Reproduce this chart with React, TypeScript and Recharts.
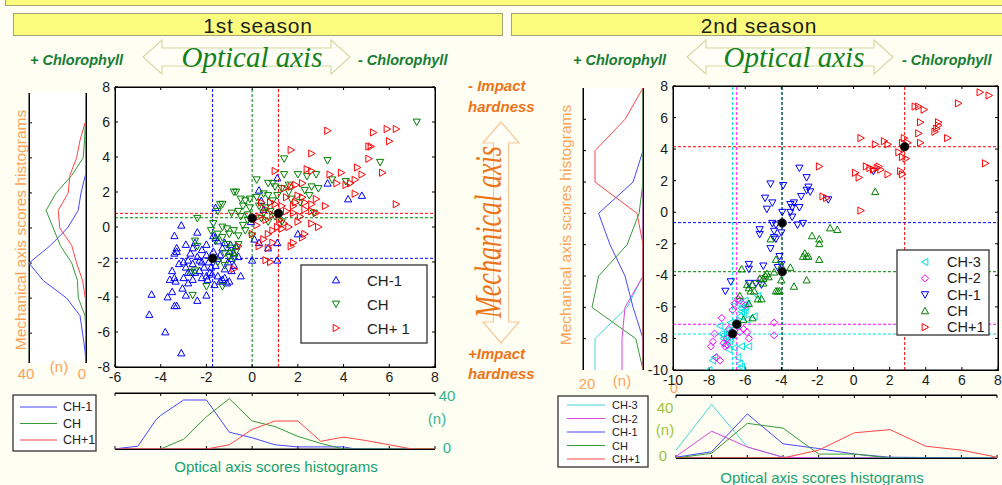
import React from 'react';
import { ScatterChart, Scatter, XAxis, YAxis, ReferenceLine } from 'recharts';

type Pt = [number, number];

// ---------------- 1st season scatter (optical x, mechanical y) ----------------
const s1Labels = ['CH-1', 'CH', 'CH+1'];
const s1_CHm1: Pt[] = [
  [-3.1, -7.2], [-3.8, -6.0], [-4.5, -5.0], [-4.4, -3.85], [-3.7, -4.0], [-3.3, -4.5], [-3.4, -4.5], [-3.05, -3.5],
  [-2.9, -3.9], [-2.4, -4.2], [-2.0, -3.9], [-3.5, -3.7], [-3.6, -3.0], [-3.4, -2.9], [-3.35, -3.1], [-3.5, -2.5],
  [-3.2, -2.1], [-3.3, -1.4], [-3.4, -1.5], [-3.3, -1.2], [-3.4, -0.5], [-3.1, 0.1], [-2.9, -1.0], [-2.7, -1.5],
  [-2.8, -1.9], [-2.6, -2.1], [-2.5, -2.6], [-2.3, -2.5], [-2.2, -2.9], [-2.6, -3.0], [-2.8, -2.6], [-2.9, -2.3],
  [-3.0, -2.0], [-2.4, -0.3], [-2.5, -0.9], [-2.2, -1.3], [-2.0, -1.6], [-1.9, -2.0], [-1.8, -2.3], [-2.1, -2.3],
  [-2.3, -1.9], [-2.4, -1.7], [-2.0, -2.8], [-1.85, -2.6], [-1.6, -2.2], [-1.5, -2.8], [-1.4, -3.1], [-1.3, -3.0],
  [-1.1, -3.2], [-1.0, -3.1], [-1.2, -2.9], [-1.5, -1.8], [-1.4, -1.6], [-1.3, -1.2], [-1.5, -0.8], [-1.6, -0.6],
  [-1.2, -0.9], [-1.0, -1.4], [-0.9, -1.8], [-1.05, -2.0], [-0.8, -2.2], [-0.9, -2.5], [-0.5, -2.8], [-0.95, -1.0],
  [-0.8, -1.5], [-0.6, -1.7], [-1.6, 1.1], [-0.05, 0.3], [0.3, 2.1], [0.4, 1.5], [0.1, -0.7], [0.3, -0.9],
  [0.0, -1.9], [1.1, -1.9], [1.1, -0.9], [1.1, 2.8], [2.0, -0.4], [0.7, -1.2], [3.3, 2.5], [4.2, 1.6],
  [4.8, 1.8], [0.5, 1.0], [-2.0, -1.0], [-1.7, -0.5], [-2.6, -1.2], [-2.7, -2.6], [-1.95, -3.0], [-1.75, -2.7],
  [-2.2, -2.0], [-1.7, -1.4], [-1.2, -2.4], [-0.7, -1.1], [-2.8, -3.2], [-3.0, -2.9], [-1.65, -3.3],
];
const s1_CH: Pt[] = [
  [7.2, 6.0], [5.6, 3.7], [3.3, 3.8], [1.4, 3.9], [1.4, 3.0], [2.0, 3.0], [2.8, 3.0], [3.5, 2.7],
  [4.1, 2.6], [2.4, 2.9], [2.3, 2.1], [2.6, 2.3], [0.2, 2.7], [0.7, 2.5], [0.9, 2.5], [1.0, 2.3],
  [1.3, 2.2], [1.6, 2.4], [1.1, 1.8], [0.5, 1.9], [0.7, 1.8], [0.2, 1.7], [-0.1, 1.6], [-0.3, 1.5],
  [-0.7, 2.0], [-0.8, 2.0], [-1.3, 1.3], [-1.5, 0.9], [-0.4, 1.2], [-0.6, 0.9], [-0.9, 0.8], [-0.5, 0.6],
  [-0.2, 0.7], [-0.1, 1.1], [0.3, 1.2], [0.6, 1.1], [0.8, 0.9], [0.4, 0.5], [0.7, 0.3], [1.0, 0.6],
  [1.3, 0.3], [-2.4, 0.5], [-1.7, 0.2], [-1.3, 0.0], [-1.1, -0.1], [-1.5, -0.4], [-1.8, -0.2], [-1.0, -0.4],
  [-0.6, -0.5], [-0.8, -0.2], [-0.4, 0.1], [-0.2, 0.4], [-1.6, -0.8], [-1.3, -0.6], [-1.1, -1.0], [-0.9, -1.2],
  [-0.7, -1.4], [-1.2, -1.5], [-1.0, -1.7], [-0.8, -1.8], [-0.6, -1.0], [-2.5, -0.8], [-2.4, -1.1], [-2.5, -2.5],
  [-2.7, -2.6], [-2.6, -3.9], [-2.0, -3.4], [-1.3, -3.4], [-1.5, -2.0], [-1.2, -2.2], [-0.9, -1.5], [0.0, -0.5],
  [0.5, 0.8], [1.7, 1.6], [2.1, 1.4], [2.5, 1.8], [2.9, 2.2], [1.6, 2.0], [2.7, 0.8], [0.9, 1.5],
  [-0.5, 1.6], [-0.3, -0.2], [-1.4, 1.3],
];
const s1_CHp1: Pt[] = [
  [6.3, 1.3], [5.7, 3.1], [6.0, 4.9], [5.3, 5.4], [5.9, 5.6], [6.3, 5.6], [5.1, 3.9], [5.1, 4.6],
  [5.2, 4.6], [4.8, 3.0], [4.6, 3.4], [4.5, 2.7], [4.3, 2.5], [4.1, 2.4], [4.5, 1.9], [3.9, 3.1],
  [3.4, 3.0], [3.7, 2.5], [3.3, 5.5], [2.6, 4.2], [1.7, 4.4], [1.0, 3.2], [2.8, 1.6], [2.4, 3.3],
  [2.6, 3.2], [2.2, 2.5], [1.9, 2.4], [1.7, 2.3], [1.4, 2.2], [2.0, 1.8], [2.2, 1.7], [2.3, 1.4],
  [1.8, 1.2], [2.3, 1.0], [2.6, 0.9], [2.8, 0.8], [2.6, 1.3], [2.1, 0.6], [2.0, 0.3], [1.8, 0.8],
  [1.5, 0.9], [1.3, 1.2], [1.0, 1.3], [0.8, 1.4], [0.4, 1.4], [0.6, 1.0], [0.3, 0.6], [0.6, 0.4],
  [0.9, 0.7], [1.2, 0.4], [1.4, 0.2], [1.1, 0.0], [1.3, -0.1], [1.6, 0.0], [0.9, -0.2], [0.7, -0.4],
  [0.5, -0.7], [0.9, -0.9], [0.3, -1.1], [0.7, -1.2], [1.7, -1.1], [1.8, -0.9], [2.3, -0.4], [2.2, -0.6],
  [2.9, 0.0], [2.6, 0.2], [0.6, -1.9], [0.8, -2.0], [-0.6, -1.1], [-0.8, -2.4], [0.0, -0.4], [0.2, 0.1],
  [3.2, 1.2], [1.5, 1.7], [1.9, 1.4],
];
const s1_means: Pt[] = [[-1.73, -1.79], [0.0, 0.5], [1.15, 0.78]];
const s1_meanX = [-1.73, 0.0, 1.15];
const s1_meanY = [-1.79, 0.53, 0.78];
const s1XTicks = [-6, -4, -2, 0, 2, 4, 6, 8];
const s1YTicks = [-8, -6, -4, -2, 0, 2, 4, 6, 8];

// 1st season histograms: [optical value, n] and [mechanical value, n]
const h1_opt_CHm1: Pt[] = [[-6, 0], [-5.8, 0.5], [-5, 2], [-4.2, 21], [-4, 24], [-3, 35], [-2, 35], [-1, 12], [0, 8], [1, 3], [2, 1.5], [3, 1.5], [4, 1.5], [4.5, 0], [7, 0]];
const h1_opt_CH: Pt[] = [[-4, 0], [-3, 7], [-2, 23], [-1, 36], [0, 20], [1, 16], [2, 9], [3, 4], [4, 0], [8, 0]];
const h1_opt_CHp1: Pt[] = [[-6, 0], [-2, 0], [-1, 3], [0, 14], [1, 20], [2, 20], [3, 5.5], [4, 8.5], [5, 6], [6, 3], [7, 0], [8, 0]];
const h1_mech_CHm1: Pt[] = [[-7.7, 0], [-7, 0.7], [-6, 2.4], [-5, 4.2], [-4, 13.6], [-3, 30], [-2, 40], [-1, 25], [0, 13], [1, 5.5], [2, 3.5], [3, 0.5]];
const h1_mech_CH: Pt[] = [[-7.7, 0], [-6, 0], [-5, 0.7], [-4, 5.4], [-3, 6], [-2, 10], [-1, 18], [0, 23], [1, 28], [2, 21], [3, 10], [4, 2], [5, 1], [6, 0.5]];
const h1_mech_CHp1: Pt[] = [[-4, 0.5], [-3, 2.4], [-2, 6.6], [-1, 10], [0, 18.4], [1, 19.5], [2, 12.5], [3, 11.3], [4, 6.6], [5, 4.2], [6, 0.7]];

// ---------------- 2nd season scatter ----------------
const s2Labels = ['CH-3', 'CH-2', 'CH-1', 'CH', 'CH+1'];
const s2_CHm3: Pt[] = [
  [-8.0, -10.0], [-7.8, -9.4], [-7.7, -9.2], [-6.9, -8.7], [-6.6, -8.6], [-6.2, -8.5], [-6.4, -9.2], [-6.3, -9.6],
  [-6.2, -9.8], [-7.1, -8.4], [-7.0, -8.2], [-7.3, -7.7], [-7.4, -7.2], [-7.0, -7.5], [-6.8, -7.0], [-6.6, -7.4],
  [-6.4, -7.2], [-6.5, -6.9], [-6.3, -6.6], [-6.1, -6.4], [-6.2, -6.1], [-6.0, -6.2], [-6.0, -6.0], [-5.9, -5.8],
  [-6.4, -5.8], [-6.0, -5.6], [-5.3, -5.3], [-5.5, -6.6], [-6.7, -7.8], [-6.8, -8.0], [-7.2, -8.0], [-5.8, -8.5],
  [-5.9, -6.8], [-6.2, -6.3], [-7.2, -7.8], [-6.9, -7.6],
];
const s2_CHm2: Pt[] = [
  [-7.9, -8.5], [-7.8, -8.2], [-7.6, -9.2], [-7.4, -9.4], [-7.0, -8.4], [-7.2, -8.3], [-7.1, -8.5], [-7.3, -6.7],
  [-7.7, -7.7], [-6.7, -6.2], [-6.6, -5.8], [-6.3, -5.6], [-6.0, -5.9], [-6.4, -5.5], [-6.1, -7.4], [-6.3, -7.6],
  [-5.8, -8.0], [-5.9, -7.6], [-4.4, -7.0], [-4.4, -7.8], [-5.1, -4.2], [-6.9, -7.4], [-7.0, -8.0], [-6.5, -7.1],
];
const s2_CHm1: Pt[] = [
  [1.1, 2.6], [-1.4, 0.8], [-3.0, 2.8], [-2.6, 2.2], [-2.5, 1.6], [-2.6, 1.4], [-2.4, 1.3], [-4.6, 1.8],
  [-3.9, 1.7], [-4.9, 0.9], [-4.8, 0.2], [-4.5, 0.6], [-2.9, 1.0], [-3.5, 0.5], [-3.4, 0.3], [-3.5, 0.0],
  [-3.3, 0.6], [-3.0, 0.3], [-3.95, 0.0], [-3.4, -0.3], [-4.3, -0.8], [-4.0, -0.7], [-4.5, -0.7], [-3.1, -0.8],
  [-2.8, -0.7], [-5.2, -1.1], [-5.2, -1.4], [-4.4, -1.2], [-4.4, -1.6], [-4.3, -1.7], [-4.0, -1.3], [-4.6, -2.3],
  [-4.1, -2.8], [-4.0, -3.3], [-4.2, -3.5], [-5.0, -3.4], [-5.8, -3.3], [-5.8, -3.6], [-5.4, -4.5], [-5.1, -4.6],
  [-5.8, -4.5], [-6.8, -4.4], [-7.1, -5.0],
];
const s2_CH: Pt[] = [
  [1.2, 1.3], [-1.3, -1.0], [-0.9, -1.1], [-2.3, -1.5], [-1.9, -1.7], [-1.9, -2.0], [-2.7, -2.6], [-2.6, -2.8],
  [-2.8, -2.8], [-2.5, -2.8], [-1.9, -3.0], [-4.6, -1.7], [-4.3, -3.0], [-4.0, -3.4], [-3.5, -3.5], [-4.4, -3.8],
  [-4.8, -3.9], [-4.9, -4.0], [-4.7, -4.1], [-5.0, -4.2], [-5.2, -4.2], [-5.0, -4.5], [-4.0, -4.3], [-2.6, -4.3],
  [-3.3, -4.7], [-4.2, -5.0], [-4.3, -5.0], [-4.1, -5.0], [-5.6, -4.6], [-5.9, -4.6], [-5.8, -4.8], [-5.5, -5.0],
  [-5.3, -5.5], [-5.1, -5.5], [-6.2, -3.6], [-5.7, -5.0], [-6.3, -5.3], [-6.1, -6.8], [-5.6, -6.7], [-5.8, -5.8],
];
const s2_CHp1: Pt[] = [
  [7.0, 7.6], [7.5, 7.4], [5.8, 6.9], [3.4, 6.7], [3.6, 6.7], [3.9, 6.5], [3.7, 5.7], [4.7, 5.7],
  [4.7, 5.5], [4.6, 5.3], [4.5, 5.1], [3.6, 5.0], [5.2, 4.7], [3.7, 4.4], [3.0, 4.4], [2.8, 4.7],
  [2.7, 4.4], [1.7, 4.5], [1.9, 4.3], [1.2, 4.3], [0.4, 4.7], [2.5, 3.8], [2.7, 3.5], [2.9, 3.4],
  [2.6, 2.6], [2.7, 2.4], [1.4, 2.9], [1.3, 2.8], [1.5, 2.7], [0.9, 2.8], [0.7, 2.9], [1.1, 2.7],
  [1.9, 2.4], [0.1, 2.5], [0.3, 2.2], [-1.9, 2.9], [-1.7, 1.0], [-1.5, 0.9], [0.4, 0.1], [7.3, 3.1],
  [2.8, 4.0],
];
const s2_means: Pt[] = [[-6.7, -7.7], [-6.47, -7.1], [-3.95, -0.68], [-3.95, -3.77], [2.83, 4.15]];
const s2_meanX = [-6.7, -6.47, -3.96, -3.96, 2.83];
const s2_meanY = [-7.72, -7.1, -0.66, -3.77, 4.15];
const s2XTicks = [-10, -8, -6, -4, -2, 0, 2, 4, 6, 8];
const s2YTicks = [-10, -8, -6, -4, -2, 0, 2, 4, 6, 8];

// 2nd season histograms
const h2_opt_CHm3: Pt[] = [[-10, 5], [-8, 34], [-6, 7], [-4, 0.5], [-2, 0], [8, 0]];
const h2_opt_CHm2: Pt[] = [[-10, 1], [-8, 17], [-6, 7], [-4, 0.5], [-2, 0], [8, 0]];
const h2_opt_CHm1: Pt[] = [[-10, 0.5], [-8, 4], [-6, 28], [-4, 9], [-2, 6], [0, 2.5], [2, 0.5], [8, 0]];
const h2_opt_CH: Pt[] = [[-10, 0], [-8, 3], [-6, 22], [-4, 19], [-2, 2.5], [0, 2.5], [2, 0], [8, 0]];
const h2_opt_CHp1: Pt[] = [[-10, 0], [-4, 0], [-2, 5], [0, 16], [2, 18], [4, 7.5], [6, 5], [8, 0.5]];
const h2_mech_CHm3: Pt[] = [[-4, 0], [-6, 5.3], [-8, 16], [-10, 16]];
const h2_mech_CHm2: Pt[] = [[2, 0], [-4, 0], [-6, 6], [-8, 7], [-10, 7]];
const h2_mech_CHm1: Pt[] = [[4, 0], [2, 3.3], [0, 14.8], [-2, 11], [-4, 6], [-6, 3.3], [-8, 0], [-10, 0]];
const h2_mech_CH: Pt[] = [[8, 0], [2, 0], [0, 1.3], [-2, 5.3], [-4, 14.8], [-6, 17], [-8, 2.4], [-10, 0]];
const h2_mech_CHp1: Pt[] = [[8, 0], [6, 6], [4, 16], [2, 16], [0, 2], [-2, 0], [-10, 0]];

// ---------------- styling ----------------
const BG = '#fefef3';
const SANS = 'Liberation Sans, Arial, Helvetica, sans-serif';
const SERIF = 'Liberation Serif, Times New Roman, serif';
const C = { blue: '#0000ff', green: '#008000', red: '#ff0000', cyan: '#00e0e0', magenta: '#ff00ff' };
const L = { blue: '#4848ff', green: '#379a37', red: '#ff4545', cyan: '#45d6d6', magenta: '#dd45dd' };
const ORANGE_LIGHT = '#f9a45a';
const ORANGE = '#ec7418';
const DGREEN = '#167d33';

type Kind = 'up' | 'down' | 'left' | 'right' | 'diamond';

function markerPoints(kind: Kind, cx: number, cy: number, r = 3.6) {
  const h = r * 0.8;
  switch (kind) {
    case 'up': return `${cx},${cy - r} ${cx + r},${cy + h} ${cx - r},${cy + h}`;
    case 'down': return `${cx},${cy + r} ${cx + r},${cy - h} ${cx - r},${cy - h}`;
    case 'right': return `${cx + r},${cy} ${cx - h},${cy - r} ${cx - h},${cy + r}`;
    case 'left': return `${cx - r},${cy} ${cx + h},${cy - r} ${cx + h},${cy + r}`;
    default: return `${cx},${cy - r} ${cx + r},${cy} ${cx},${cy + r} ${cx - r},${cy}`;
  }
}

const shapeOf = (kind: Kind, color: string) => (p: any) => {
  if (p == null || p.cx == null || p.cy == null || isNaN(p.cx)) return <g />;
  return <polygon points={markerPoints(kind, p.cx, p.cy)} fill="none" stroke={color} strokeWidth={1} />;
};
const meanShape = (p: any) => {
  if (p == null || p.cx == null || isNaN(p.cx)) return <g />;
  return <circle cx={p.cx} cy={p.cy} r={4.3} fill="#000" stroke="#222" strokeWidth={0.8} />;
};
const emptyShape = () => <g />;
const noTickLabel = () => <g />;

const toObj = (arr: Pt[]) => arr.map(([x, y]) => ({ x, y }));
const toObjV = (arr: Pt[]) => arr.map(([v, n]) => ({ x: n, y: v }));

const tickStyle = { fill: '#1b1b1b', fontSize: 14, fontFamily: SANS };

type SeriesDef = { name: string; data: Pt[]; kind: Kind; color: string };

function ScatterPanel(props: {
  left: number; top: number; width: number; height: number; yAxisWidth: number;
  xDomain: [number, number]; yDomain: [number, number]; xTicks: number[]; yTicks: number[];
  series: SeriesDef[]; means: Pt[];
  vlines: { x: number; color: string }[]; hlines: { y: number; color: string }[];
}) {
  const { left, top, width, height, yAxisWidth, xDomain, yDomain, xTicks, yTicks, series, means, vlines, hlines } = props;
  return (
    <div style={{ position: 'absolute', left, top }}>
      <ScatterChart width={width} height={height} margin={{ top: 9, right: 9, bottom: 0, left: 0 }}>
        <XAxis type="number" dataKey="x" domain={xDomain} ticks={xTicks} interval={0} allowDataOverflow
          height={25} tickSize={-3} tickMargin={8} tick={tickStyle} stroke="#000" />
        <XAxis xAxisId="top" type="number" dataKey="x" domain={xDomain} ticks={xTicks} interval={0} allowDataOverflow
          orientation="top" height={1} tickSize={-3} tick={noTickLabel} stroke="#000" />
        <YAxis type="number" dataKey="y" domain={yDomain} ticks={yTicks} interval={0} allowDataOverflow
          width={yAxisWidth} tickSize={-3} tickMargin={8} tick={tickStyle} stroke="#000" />
        <YAxis yAxisId="right" type="number" dataKey="y" domain={yDomain} ticks={yTicks} interval={0} allowDataOverflow
          orientation="right" width={1} tickSize={-3} tick={noTickLabel} stroke="#000" />
        {series.map((s) => (
          <Scatter key={s.name} name={s.name} data={toObj(s.data)} shape={shapeOf(s.kind, s.color)} isAnimationActive={false} />
        ))}
        {vlines.map((v, i) => (
          <ReferenceLine key={'v' + i} x={v.x} stroke={v.color} strokeDasharray="3 2" strokeWidth={1} />
        ))}
        {hlines.map((h, i) => (
          <ReferenceLine key={'h' + i} y={h.y} stroke={h.color} strokeDasharray="3 2" strokeWidth={1} />
        ))}
        <Scatter name="means" data={toObj(means)} shape={meanShape} isAnimationActive={false} />
      </ScatterChart>
    </div>
  );
}

type LineDef = { name: string; data: Pt[]; color: string };

function HistH(props: { left: number; top: number; plotW: number; plotH: number; xDomain: [number, number]; xTicks: number[]; lines: LineDef[] }) {
  const { left, top, plotW, plotH, xDomain, xTicks, lines } = props;
  return (
    <div style={{ position: 'absolute', left: left - 5, top: top - 5 }}>
      <ScatterChart width={plotW + 10} height={plotH + 10} margin={{ top: 4, right: 5, bottom: 4, left: 5 }}>
        <XAxis type="number" dataKey="x" domain={xDomain} ticks={xTicks} interval={0} allowDataOverflow
          height={1} tickSize={-3} tick={noTickLabel} stroke="#000" />
        <XAxis xAxisId="top" type="number" dataKey="x" domain={xDomain} ticks={xTicks} interval={0} allowDataOverflow
          orientation="top" height={1} tickSize={-3} tick={noTickLabel} stroke="#000" />
        <YAxis type="number" dataKey="y" domain={[0, 40]} hide width={0} allowDataOverflow />
        {lines.map((l) => (
          <Scatter key={l.name} name={l.name} data={toObj(l.data)} line={{ stroke: l.color, strokeWidth: 1 }}
            shape={emptyShape} isAnimationActive={false} />
        ))}
      </ScatterChart>
    </div>
  );
}

function HistV(props: { left: number; top: number; plotW: number; plotH: number; yDomain: [number, number]; yTicks: number[]; nMax: number; lines: LineDef[] }) {
  const { left, top, plotW, plotH, yDomain, yTicks, nMax, lines } = props;
  return (
    <div style={{ position: 'absolute', left: left - 5, top: top - 5 }}>
      <ScatterChart width={plotW + 10} height={plotH + 10} margin={{ top: 5, right: 4, bottom: 5, left: 4 }}>
        <XAxis type="number" dataKey="x" domain={[0, nMax]} reversed hide height={0} allowDataOverflow />
        <YAxis type="number" dataKey="y" domain={yDomain} ticks={yTicks} interval={0} allowDataOverflow
          width={1} tickSize={-3} tick={noTickLabel} stroke="#000" />
        <YAxis yAxisId="right" type="number" dataKey="y" domain={yDomain} ticks={yTicks} interval={0} allowDataOverflow
          orientation="right" width={1} tickLine={false} tick={noTickLabel} stroke="#000" />
        {lines.map((l) => (
          <Scatter key={l.name} name={l.name} data={toObjV(l.data)} line={{ stroke: l.color, strokeWidth: 1 }}
            shape={emptyShape} isAnimationActive={false} />
        ))}
      </ScatterChart>
    </div>
  );
}

function hArrow(x0: number, x1: number, cy: number) {
  const hl = 19, hh = 17, sh = 9;
  return `${x0},${cy} ${x0 + hl},${cy - hh} ${x0 + hl},${cy - sh} ${x1 - hl},${cy - sh} ${x1 - hl},${cy - hh} ${x1},${cy} ${x1 - hl},${cy + hh} ${x1 - hl},${cy + sh} ${x0 + hl},${cy + sh} ${x0 + hl},${cy + hh}`;
}
function vArrow(cx: number, y0: number, y1: number) {
  const hl = 21, hh = 18, sh = 7.5;
  return `${cx},${y0} ${cx + hh},${y0 + hl} ${cx + sh},${y0 + hl} ${cx + sh},${y1 - hl} ${cx + hh},${y1 - hl} ${cx},${y1} ${cx - hh},${y1 - hl} ${cx - sh},${y1 - hl} ${cx - sh},${y0 + hl} ${cx - hh},${y0 + hl}`;
}

function ScatterLegend({ x, y, w, h, rows, markerX, textX, fontSize }: { x: number; y: number; w: number; h: number; rows: { label: string; kind: Kind; color: string; y: number }[]; markerX: number; textX: number; fontSize: number }) {
  return (
    <g>
      <rect x={x} y={y} width={w} height={h} fill="#fff" stroke="#333" strokeWidth={1.3} />
      {rows.map((r) => (
        <g key={r.label}>
          <polygon points={markerPoints(r.kind, markerX, r.y)} fill="none" stroke={r.color} strokeWidth={1} />
          <text x={textX} y={r.y} fontSize={fontSize} fontFamily={SANS} fill="#222" dominantBaseline="central">{r.label}</text>
        </g>
      ))}
    </g>
  );
}

function LineLegend({ x, y, w, h, rows, x0, x1, textX, fontSize }: { x: number; y: number; w: number; h: number; rows: { label: string; color: string; y: number }[]; x0: number; x1: number; textX: number; fontSize: number }) {
  return (
    <g>
      <rect x={x} y={y} width={w} height={h} fill="#fff" stroke="#222" strokeWidth={1.2} />
      {rows.map((r) => (
        <g key={r.label}>
          <line x1={x0} x2={x1} y1={r.y} y2={r.y} stroke={r.color} strokeWidth={1.2} />
          <text x={textX} y={r.y} fontSize={fontSize} fontFamily={SANS} fill="#222" dominantBaseline="central">{r.label}</text>
        </g>
      ))}
    </g>
  );
}

export default function App() {
  const s1Series: SeriesDef[] = [
    { name: s1Labels[0], data: s1_CHm1, kind: 'up', color: C.blue },
    { name: s1Labels[1], data: s1_CH, kind: 'down', color: C.green },
    { name: s1Labels[2], data: s1_CHp1, kind: 'right', color: C.red },
  ];
  const s2Series: SeriesDef[] = [
    { name: s2Labels[0], data: s2_CHm3, kind: 'left', color: C.cyan },
    { name: s2Labels[1], data: s2_CHm2, kind: 'diamond', color: C.magenta },
    { name: s2Labels[2], data: s2_CHm1, kind: 'down', color: C.blue },
    { name: s2Labels[3], data: s2_CH, kind: 'up', color: C.green },
    { name: s2Labels[4], data: s2_CHp1, kind: 'right', color: C.red },
  ];
  const s1Colors = [C.blue, C.green, C.red];
  const s2Colors = [C.cyan, C.magenta, C.blue, C.green, C.red];

  return (
    <div style={{ position: 'absolute', left: 0, top: 0, width: 1002, height: 485, background: BG, overflow: 'hidden', fontFamily: SANS }}>
      <svg width={1002} height={485} style={{ position: 'absolute', left: 0, top: 0 }}>
        {/* title strips */}
        <rect x={5.5} y={-2} width={1000} height={7.5} fill="#fbfb7e" stroke="#a3a37a" strokeWidth={1} />
        <rect x={13.5} y={13.5} width={489} height={22} fill="#fbfb7e" stroke="#a3a37a" strokeWidth={1} />
        <rect x={511.5} y={13.5} width={496} height={22} fill="#fbfb7e" stroke="#a3a37a" strokeWidth={1} />
        <text x={258} y={25} fontSize={21} fontFamily={SANS} fill="#1e1e1e" textAnchor="middle" dominantBaseline="central" letterSpacing={0.8}>1st season</text>
        <text x={759} y={25} fontSize={21} fontFamily={SANS} fill="#1e1e1e" textAnchor="middle" dominantBaseline="central" letterSpacing={0.8}>2nd season</text>

        {/* optical arrows */}
        <polygon points={hArrow(143, 350, 57)} fill="#fffff8" stroke="#d6d8a4" strokeWidth={1.2} />
        <polygon points={hArrow(687, 893, 57)} fill="#fffff8" stroke="#d6d8a4" strokeWidth={1.2} />
        <text x={252} y={57} fontSize={29} fontStyle="italic" fontFamily={SERIF} fill="#12821c" textAnchor="middle" dominantBaseline="central">Optical axis</text>
        <text x={794} y={57} fontSize={29} fontStyle="italic" fontFamily={SERIF} fill="#12821c" textAnchor="middle" dominantBaseline="central">Optical axis</text>
        <text x={30} y={60} fontSize={14.5} fontWeight="bold" fontStyle="italic" fontFamily={SANS} fill={DGREEN} dominantBaseline="central">+ Chlorophyll</text>
        <text x={358} y={60} fontSize={14.5} fontWeight="bold" fontStyle="italic" fontFamily={SANS} fill={DGREEN} dominantBaseline="central">- Chlorophyll</text>
        <text x={573} y={60} fontSize={14.5} fontWeight="bold" fontStyle="italic" fontFamily={SANS} fill={DGREEN} dominantBaseline="central">+ Chlorophyll</text>
        <text x={902} y={60} fontSize={14.5} fontWeight="bold" fontStyle="italic" fontFamily={SANS} fill={DGREEN} dominantBaseline="central">- Chlorophyll</text>

        {/* mechanical arrow */}
        <polygon points={vArrow(501, 122, 343)} fill="#fffff8" stroke="#f8c89a" strokeWidth={1.2} />
        <text x={501} y={232} transform="rotate(-90 501 232)" fontSize={38} fontStyle="italic" fontFamily={SERIF} fill={ORANGE}
          textAnchor="middle" textLength={172} lengthAdjust="spacingAndGlyphs">Mechanical axis</text>
        <text x={468} y={85} fontSize={15} fontWeight="bold" fontStyle="italic" fontFamily={SANS} fill={ORANGE} dominantBaseline="central">-  Impact</text>
        <text x={468} y={106} fontSize={15} fontWeight="bold" fontStyle="italic" fontFamily={SANS} fill={ORANGE} dominantBaseline="central">hardness</text>
        <text x={468} y={353} fontSize={15} fontWeight="bold" fontStyle="italic" fontFamily={SANS} fill={ORANGE} dominantBaseline="central">+Impact</text>
        <text x={468} y={373} fontSize={15} fontWeight="bold" fontStyle="italic" fontFamily={SANS} fill={ORANGE} dominantBaseline="central">hardness</text>

        {/* plot backgrounds and frames */}
        <rect x={115.5} y={87.5} width={320} height={280} fill="#fff" stroke="#000" strokeWidth={1} />
        <rect x={673.5} y={86.5} width={325} height={284} fill="#fff" stroke="#000" strokeWidth={1} />
        <rect x={29} y={93} width={57} height={270} fill="#fff" />
        <rect x={583} y={88} width={60} height={282} fill="#fff" />
        <line x1={29.5} x2={29.5} y1={93} y2={363} stroke="#000" />
        <line x1={86.5} x2={86.5} y1={93} y2={363} stroke="#000" />
        <line x1={583.5} x2={583.5} y1={88} y2={370} stroke="#000" />
        <line x1={643.5} x2={643.5} y1={88} y2={370} stroke="#000" />
        <line x1={115} x2={435} y1={393.5} y2={393.5} stroke="#000" />
        <line x1={115} x2={435} y1={449.5} y2={449.5} stroke="#000" />
        <line x1={676} x2={997} y1={395.5} y2={395.5} stroke="#000" />
        <line x1={676} x2={997} y1={458.5} y2={458.5} stroke="#000" />

        {/* histogram axis labels */}
        <text x={20} y={230} transform="rotate(-90 20 230)" fontSize={15.5} fontFamily={SANS} fill={ORANGE_LIGHT} textAnchor="middle" dominantBaseline="central">Mechanical  axis  scores  histograms</text>
        <text x={565} y={225} transform="rotate(-90 565 225)" fontSize={15.5} fontFamily={SANS} fill={ORANGE_LIGHT} textAnchor="middle" dominantBaseline="central">Mechanical  axis  scores  histograms</text>
        <text x={26} y={373} fontSize={15} fontFamily={SANS} fill={ORANGE_LIGHT} textAnchor="middle" dominantBaseline="central">40</text>
        <text x={59} y={366} fontSize={15} fontFamily={SANS} fill={ORANGE_LIGHT} textAnchor="middle" dominantBaseline="central">(n)</text>
        <text x={82} y={373} fontSize={15} fontFamily={SANS} fill={ORANGE_LIGHT} textAnchor="middle" dominantBaseline="central">0</text>
        <text x={587} y={383} fontSize={15} fontFamily={SANS} fill={ORANGE_LIGHT} textAnchor="middle" dominantBaseline="central">20</text>
        <text x={622} y={380} fontSize={15} fontFamily={SANS} fill={ORANGE_LIGHT} textAnchor="middle" dominantBaseline="central">(n)</text>
        <text x={674} y={388} fontSize={14} fontFamily={SANS} fill={ORANGE_LIGHT} textAnchor="middle" dominantBaseline="central">0</text>

        <text x={447} y={395} fontSize={15} fontFamily={SANS} fill="#36b496" textAnchor="middle" dominantBaseline="central">40</text>
        <text x={437} y={418} fontSize={15} fontFamily={SANS} fill="#36b496" textAnchor="middle" dominantBaseline="central">(n)</text>
        <text x={447} y={447} fontSize={15} fontFamily={SANS} fill="#36b496" textAnchor="middle" dominantBaseline="central">0</text>
        <text x={665} y={407} fontSize={15} fontFamily={SANS} fill="#a2c23e" textAnchor="middle" dominantBaseline="central">40</text>
        <text x={665} y={429} fontSize={15} fontFamily={SANS} fill="#a2c23e" textAnchor="middle" dominantBaseline="central">(n)</text>
        <text x={663} y={455} fontSize={15} fontFamily={SANS} fill="#a2c23e" textAnchor="middle" dominantBaseline="central">0</text>

        <text x={276} y={466} fontSize={15} fontFamily={SANS} fill="#19a06e" textAnchor="middle" dominantBaseline="central">Optical axis scores histograms</text>
        <text x={822} y={477} fontSize={15} fontFamily={SANS} fill="#19a06e" textAnchor="middle" dominantBaseline="central">Optical axis scores histograms</text>
      </svg>

      <ScatterPanel left={75} top={77} width={370} height={315} yAxisWidth={40}
        xDomain={[-6, 8]} yDomain={[-8, 8]} xTicks={s1XTicks} yTicks={s1YTicks}
        series={s1Series} means={s1_means}
        vlines={s1_meanX.map((x, i) => ({ x, color: s1Colors[i] }))}
        hlines={s1_meanY.map((y, i) => ({ y, color: s1Colors[i] }))} />

      <ScatterPanel left={639} top={76} width={369} height={319} yAxisWidth={34}
        xDomain={[-10, 8]} yDomain={[-10, 8]} xTicks={s2XTicks} yTicks={s2YTicks}
        series={s2Series} means={s2_means}
        vlines={s2_meanX.map((x, i) => ({ x, color: s2Colors[i] }))}
        hlines={s2_meanY.map((y, i) => ({ y, color: s2Colors[i] }))} />

      <HistV left={29} top={93} plotW={57} plotH={270} yDomain={[-7.7, 7.7]} yTicks={[-6, -4, -2, 0, 2, 4, 6]} nMax={40}
        lines={[
          { name: 'CH-1', data: h1_mech_CHm1, color: L.blue },
          { name: 'CH', data: h1_mech_CH, color: L.green },
          { name: 'CH+1', data: h1_mech_CHp1, color: L.red },
        ]} />
      <HistV left={583} top={88} plotW={60} plotH={282} yDomain={[-10, 8]} yTicks={[-8, -6, -4, -2, 0, 2, 4, 6]} nMax={20}
        lines={[
          { name: 'CH-3', data: h2_mech_CHm3, color: L.cyan },
          { name: 'CH-2', data: h2_mech_CHm2, color: L.magenta },
          { name: 'CH-1', data: h2_mech_CHm1, color: L.blue },
          { name: 'CH', data: h2_mech_CH, color: L.green },
          { name: 'CH+1', data: h2_mech_CHp1, color: L.red },
        ]} />

      <HistH left={115} top={393} plotW={320} plotH={56} xDomain={[-6, 8]} xTicks={s1XTicks}
        lines={[
          { name: 'CH-1', data: h1_opt_CHm1, color: L.blue },
          { name: 'CH', data: h1_opt_CH, color: L.green },
          { name: 'CH+1', data: h1_opt_CHp1, color: L.red },
        ]} />
      <HistH left={676} top={395} plotW={321} plotH={63} xDomain={[-10, 8]} xTicks={s2XTicks}
        lines={[
          { name: 'CH-3', data: h2_opt_CHm3, color: L.cyan },
          { name: 'CH-2', data: h2_opt_CHm2, color: L.magenta },
          { name: 'CH-1', data: h2_opt_CHm1, color: L.blue },
          { name: 'CH', data: h2_opt_CH, color: L.green },
          { name: 'CH+1', data: h2_opt_CHp1, color: L.red },
        ]} />

      <svg width={1002} height={485} style={{ position: 'absolute', left: 0, top: 0, pointerEvents: 'none' }}>
        <ScatterLegend x={301} y={265} w={126} h={78} markerX={336} textX={367} fontSize={15}
          rows={s1Labels.map((label, i) => ({ label: label === 'CH+1' ? 'CH+ 1' : label, kind: s1Series[i].kind, color: s1Colors[i], y: 280 + i * 24 }))} />
        <ScatterLegend x={897} y={250} w={92} h={85} markerX={925} textX={947} fontSize={14.5}
          rows={s2Labels.map((label, i) => ({ label, kind: s2Series[i].kind, color: s2Colors[i], y: 262 + i * 16.3 }))} />
        <LineLegend x={13} y={395} w={83} h={56} x0={20} x1={57} textX={63} fontSize={12.5}
          rows={s1Labels.map((label, i) => ({ label, color: [L.blue, L.green, L.red][i], y: 407 + i * 16.5 }))} />
        <LineLegend x={558} y={396} w={90} h={71} x0={567} x1={605} textX={612} fontSize={11}
          rows={s2Labels.map((label, i) => ({ label, color: [L.cyan, L.magenta, L.blue, L.green, L.red][i], y: 405 + i * 13.5 }))} />
      </svg>
    </div>
  );
}
